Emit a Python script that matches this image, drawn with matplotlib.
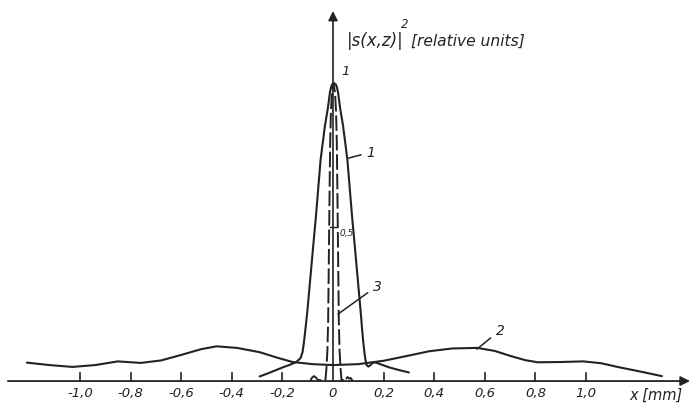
import matplotlib.pyplot as plt

# curve 2: wide, low intensity distribution
x2 = [-1.21, -1.12, -1.03, -0.94, -0.85, -0.76, -0.68, -0.60, -0.52, -0.46, -0.38,
      -0.29, -0.22, -0.16, -0.08, 0.0, 0.10, 0.20, 0.30, 0.38, 0.47, 0.57, 0.64,
      0.70, 0.76, 0.81, 0.90, 0.99, 1.06, 1.13, 1.22, 1.30]
y2 = [0.060, 0.052, 0.046, 0.052, 0.064, 0.059, 0.067, 0.085, 0.104, 0.113, 0.108,
      0.094, 0.076, 0.062, 0.055, 0.052, 0.055, 0.066, 0.083, 0.097, 0.106, 0.108, 0.098,
      0.082, 0.068, 0.061, 0.062, 0.064, 0.058, 0.045, 0.030, 0.016]

# curve 1: main peak
x1 = [-0.29, -0.26, -0.23, -0.20, -0.17, -0.145, -0.128, -0.120, -0.115, -0.110,
      -0.101, -0.089, -0.077, -0.067, -0.061, -0.049, -0.032, -0.020, -0.012, -0.008,
      -0.004, 0.004, 0.012, 0.016, 0.020, 0.028, 0.040, 0.057, 0.069, 0.075,
      0.085, 0.097, 0.109, 0.116, 0.120, 0.124, 0.128, 0.133, 0.140, 0.148,
      0.158, 0.17, 0.19, 0.22, 0.26, 0.30]
y1 = [0.015, 0.024, 0.034, 0.044, 0.053, 0.062, 0.075, 0.095, 0.125, 0.16,
      0.23, 0.34, 0.45, 0.54, 0.60, 0.72, 0.83, 0.89, 0.94, 0.955,
      0.965, 0.97, 0.965, 0.955, 0.94, 0.89, 0.83, 0.72, 0.60, 0.54,
      0.45, 0.34, 0.23, 0.16, 0.125, 0.095, 0.07, 0.052, 0.047, 0.052,
      0.060, 0.060, 0.054, 0.045, 0.036, 0.028]

# curve 3: narrow peak (dashed)
x3 = [-0.09, -0.082, -0.075, -0.068, -0.060, -0.045, -0.035, -0.030, -0.026, -0.022,
      -0.019, -0.017, -0.015, -0.013, -0.011, -0.008, -0.004, 0.002, 0.008, 0.012,
      0.015, 0.017, 0.019, 0.021, 0.023, 0.026, 0.030, 0.034, 0.040, 0.046,
      0.052, 0.058, 0.064, 0.070, 0.078]
y3 = [0.0, 0.012, 0.016, 0.012, 0.004, 0.002, 0.002, 0.0, 0.04, 0.10,
      0.20, 0.35, 0.50, 0.65, 0.78, 0.88, 0.94, 0.97, 0.94, 0.88,
      0.78, 0.65, 0.50, 0.35, 0.20, 0.10, 0.04, 0.0, 0.004, 0.012,
      0.008, 0.013, 0.008, 0.010, 0.0]

xticks = [-1.0, -0.8, -0.6, -0.4, -0.2, 0.0, 0.2, 0.4, 0.6, 0.8, 1.0]
xticklabels = ['-1,0', '-0,8', '-0,6', '-0,4', '-0,2', '0', '0,2', '0,4', '0,6', '0,8', '1,0']

ink = '#222222'

fig = plt.figure(figsize=(6.9, 4.06), dpi=100)
ax = fig.add_axes([0, 0, 1, 1])
ax.set_xlim(-1.316, 1.411)
ax.set_ylim(-0.078, 1.244)

ax.plot(x2, y2, color=ink, lw=1.5, solid_capstyle='round', solid_joinstyle='round')
ax.plot(x1, y1, color=ink, lw=1.5, solid_capstyle='round', solid_joinstyle='round')
ax.plot(x3, y3, color=ink, lw=1.4, dashes=(8, 2))

# axes with arrows
for s in ['top', 'right', 'left', 'bottom']:
    ax.spines[s].set_visible(False)
ax.annotate('', xy=(1.411, 0), xytext=(-1.285, 0),
            arrowprops=dict(arrowstyle='-|>', color=ink, lw=1.3, mutation_scale=14,
                            shrinkA=0, shrinkB=0))
ax.annotate('', xy=(0, 1.205), xytext=(0, 0),
            arrowprops=dict(arrowstyle='-|>', color=ink, lw=1.2, mutation_scale=14,
                            shrinkA=0, shrinkB=0))

# x ticks
ax.set_xticks([])
ax.set_yticks([])
for xt, lab in zip(xticks, xticklabels):
    if xt != 0:
        ax.plot([xt, xt], [0, 0.025], color=ink, lw=1.2)
    ax.text(xt, -0.037, lab, ha='center', va='center', fontsize=9.5,
            style='italic', color=ink)

# y tick at 0.5
ax.plot([-0.012, 0.012], [0.5, 0.5], color=ink, lw=1.0)
ax.text(0.026, 0.485, '0,5', fontsize=6.5, style='italic', color=ink,
        ha='left', va='center')
ax.text(0.035, 1.01, '1', fontsize=9.5, style='italic', color=ink,
        ha='left', va='center')

# axis labels
ax.text(0.055, 1.11, '|s(x,z)|', fontsize=12, style='italic', color=ink,
        ha='left', va='center')
ax.text(0.283, 1.165, '2', fontsize=8.5, style='italic', color=ink,
        ha='center', va='center')
ax.text(0.31, 1.11, '[relative units]', fontsize=11.2, style='italic', color=ink,
        ha='left', va='center')
ax.text(1.38, -0.042, 'x [mm]', fontsize=10.5, style='italic', color=ink,
        ha='right', va='center')

# curve labels with leader lines
leader = dict(arrowstyle='-', color=ink, lw=1.1, shrinkA=2, shrinkB=0)
ax.annotate('1', xy=(0.062, 0.726), xytext=(0.15, 0.745), fontsize=10,
            style='italic', color=ink, ha='center', va='center', arrowprops=leader)
ax.annotate('3', xy=(0.020, 0.218), xytext=(0.175, 0.31), fontsize=10,
            style='italic', color=ink, ha='center', va='center', arrowprops=leader)
ax.annotate('2', xy=(0.569, 0.104), xytext=(0.66, 0.165), fontsize=10,
            style='italic', color=ink, ha='center', va='center', arrowprops=leader)

fig.savefig('out.png', dpi=100, facecolor='white')
